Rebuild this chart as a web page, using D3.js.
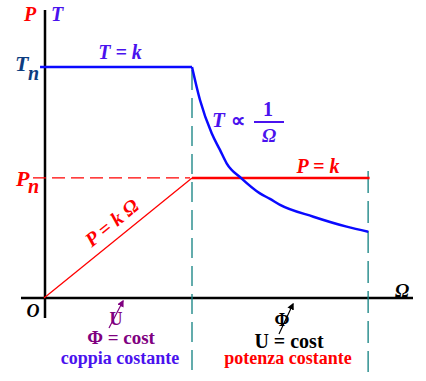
<!DOCTYPE html>
<html>
<head>
<meta charset="utf-8">
<script src="https://cdn.jsdelivr.net/npm/d3@7"></script>
<style>
  html, body { margin: 0; padding: 0; background: #fff; }
  svg { display: block; }
  .f1 { font-family: "Liberation Serif"; }
</style>
</head>
<body>
<svg id="chart" width="426" height="381"></svg>
<script>
// ---- data (normalised: rated speed = 1, rated torque = 1) ----
const ratedSpeed = 1.0;
const maxSpeed = 2.19;
const ratedTorque = 1.0;
const ratedPower = 0.52;
// torque in the constant-power (field weakening) region
const curveOmega  = [1.0, 1.054, 1.133, 1.189, 1.234, 1.336, 1.459, 1.527, 1.595, 1.820, 2.045, 2.191];
const curveTorque = [1.0, 0.857, 0.713, 0.641, 0.583, 0.517, 0.453, 0.429, 0.403, 0.352, 0.309, 0.287];
// constant-torque line
const torqueOmega = [-0.02, 1.0];
const torqueVals  = [ratedTorque, ratedTorque];
// power line
const powerOmega = [0, ratedSpeed, 2.2];
const powerVals  = [0, ratedPower, ratedPower];

const svg = d3.select("#chart");
const x = d3.scaleLinear().domain([0, 2.5]).range([44, 414]);
const y = d3.scaleLinear().domain([0, 1.2]).range([298, 298 - 1.2 * 231]);

const blue = "#0a0aff", red = "#ff0000", teal = "#108080", violet = "#4a12ee", purple = "#800080", navy = "#0c3d80";

// axes
svg.append("line").attr("x1", x(0) + 1).attr("x2", x(0) + 1)
  .attr("y1", y(1.247)).attr("y2", y(0) + 20)
  .attr("stroke", "#000").attr("stroke-width", 2.5);
svg.append("line").attr("x1", 21).attr("x2", 413)
  .attr("y1", y(0)).attr("y2", y(0))
  .attr("stroke", "#000").attr("stroke-width", 2.5);

// dashed verticals
svg.append("line").attr("x1", x(ratedSpeed)).attr("x2", x(ratedSpeed))
  .attr("y1", y(ratedTorque) + 3).attr("y2", 372)
  .attr("stroke", teal).attr("stroke-width", 1.3).attr("stroke-dasharray", "20,8");
svg.append("line").attr("x1", x(maxSpeed)).attr("x2", x(maxSpeed))
  .attr("y1", y(ratedPower) - 7).attr("y2", 372)
  .attr("stroke", teal).attr("stroke-width", 1.3).attr("stroke-dasharray", "22,8");

// Pn dashed
svg.append("line").attr("x1", 33).attr("x2", x(ratedSpeed) - 2)
  .attr("y1", y(ratedPower)).attr("y2", y(ratedPower))
  .attr("stroke", red).attr("stroke-width", 1.3).attr("stroke-dasharray", "13,6");

// power: ramp (thin) and constant (thick)
svg.append("line").attr("x1", x(powerOmega[0])).attr("y1", y(powerVals[0]))
  .attr("x2", x(powerOmega[1])).attr("y2", y(powerVals[1]))
  .attr("stroke", red).attr("stroke-width", 1.3);
svg.append("line").attr("x1", x(powerOmega[1])).attr("y1", y(powerVals[1]))
  .attr("x2", x(powerOmega[2])).attr("y2", y(powerVals[2]))
  .attr("stroke", red).attr("stroke-width", 2.5);

// torque
svg.append("line").attr("x1", x(torqueOmega[0]) - 1).attr("y1", y(torqueVals[0]))
  .attr("x2", x(torqueOmega[1])).attr("y2", y(torqueVals[1]))
  .attr("stroke", blue).attr("stroke-width", 2.5);
svg.append("path")
  .datum(curveOmega.map((o, i) => [o, curveTorque[i]]))
  .attr("d", d3.line().x(d => x(d[0])).y(d => y(d[1])).curve(d3.curveMonotoneX))
  .attr("fill", "none").attr("stroke", blue).attr("stroke-width", 2.5);

// text helper
function txt(s, px, py, color, size, italic, anchor) {
  return svg.append("text").attr("class", "f1").attr("x", px).attr("y", py).attr("fill", color)
    .attr("font-size", size).attr("font-weight", "bold").attr("font-style", italic ? "italic" : "normal")
    .attr("text-anchor", anchor || "start").text(s);
}

txt("P", 24, 21, red, 20, true);
txt("T", 51, 21, violet, 20, true);
txt("T", 15, 71, navy, 22, true);
txt("n", 28, 80, navy, 20, true);
txt("P", 16, 186, red, 22, true);
txt("n", 28, 193, red, 20, true);
txt("T = k", 120, 59, violet, 20, true, "middle");
txt("P = k", 318, 173, red, 20, true, "middle");
txt("T", 212, 127, violet, 21, true);
txt("\u221D", 238, 127, violet, 20, false, "middle");
txt("1", 268, 116, violet, 20, false, "middle");
svg.append("line").attr("x1", 254).attr("x2", 284).attr("y1", 122).attr("y2", 122)
  .attr("stroke", violet).attr("stroke-width", 2);
txt("\u03A9", 269, 142, violet, 19, true, "middle");
txt("\u03A9", 402, 297, "#000", 19, true, "middle");
txt("O", 33, 317, "#000", 18, true, "middle");

// rotated label along the ramp
const ang = Math.atan2(y(ratedPower) - y(0), x(ratedSpeed) - x(0)) * 180 / Math.PI;
svg.append("text").attr("class", "f1").attr("transform", `translate(116,228) rotate(${ang})`)
  .attr("fill", red).attr("font-size", 20).attr("font-weight", "bold").attr("font-style", "italic")
  .attr("text-anchor", "middle").text("P = k \u03A9");

// arrows
const defs = svg.append("defs");
function marker(id, color) {
  defs.append("marker").attr("id", id).attr("viewBox", "0 0 10 10")
    .attr("refX", 8).attr("refY", 5).attr("markerWidth", 7).attr("markerHeight", 7)
    .attr("markerUnits", "userSpaceOnUse")
    .attr("orient", "auto").append("path").attr("d", "M0,0 L10,5 L0,10 z").attr("fill", color);
}
marker("arP", purple);
marker("arK", "#000");

txt("U", 116, 325, purple, 18, false, "middle");
svg.append("line").attr("x1", 109).attr("y1", 328).attr("x2", 123).attr("y2", 301)
  .attr("stroke", purple).attr("stroke-width", 1.2).attr("marker-end", "url(#arP)");
txt("\u03A6 = cost", 121, 344, purple, 19, false, "middle");
txt("coppia costante", 120, 364, violet, 18, false, "middle");

txt("\u03A6", 282, 326, "#000", 18, false, "middle");
svg.append("line").attr("x1", 279).attr("y1", 334).attr("x2", 293).attr("y2", 304)
  .attr("stroke", "#000").attr("stroke-width", 1.2).attr("marker-end", "url(#arK)");
txt("U = cost", 289, 348, "#000", 20, false, "middle");
txt("potenza costante", 288, 364, red, 18, false, "middle");
</script>
</body>
</html>
